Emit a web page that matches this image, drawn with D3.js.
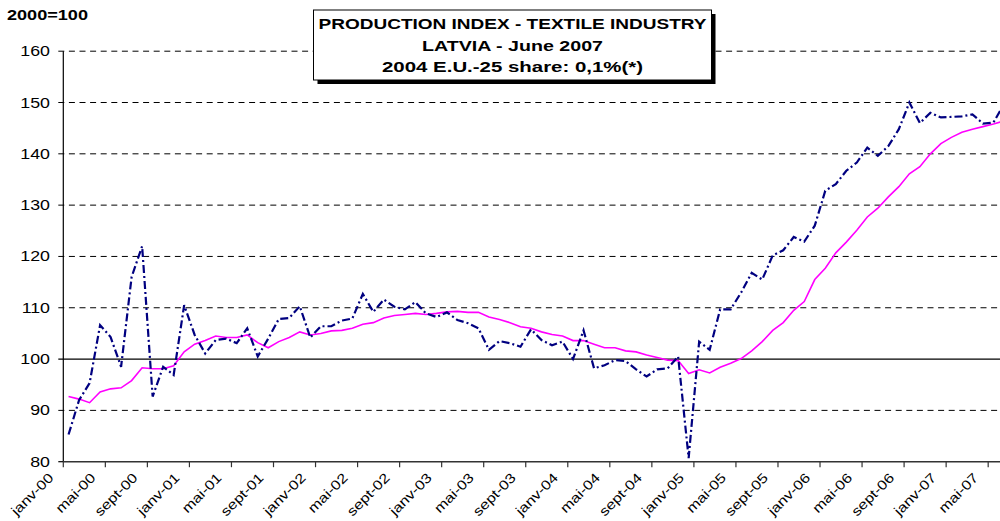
<!DOCTYPE html>
<html>
<head>
<meta charset="utf-8">
<script src="https://cdn.jsdelivr.net/npm/d3@7"></script>
<style>
  html, body { margin: 0; padding: 0; background: #fff; }
  svg { display: block; }
  text { font-family: "Liberation Sans", Arial, Helvetica, sans-serif; fill: #000; }
</style>
</head>
<body>
<svg id="chart" width="1000" height="521"></svg>
<script>
// ---- data ----
const monthNames = ["janv", "févr", "mars", "avr", "mai", "juin", "juil", "août", "sept", "oct", "nov", "déc"];
const startYear = 2000;
const nMonths = 90; // janv-00 .. juin-07
const categories = [];
for (let i = 0; i < nMonths; i++) {
  const yy = startYear + Math.floor(i / 12);
  categories.push(monthNames[i % 12] + "-" + String(yy % 100).padStart(2, "0"));
}

// Production index (dash-dot, navy)
const indexValues = [
  85.3, 92.0, 95.3, 106.6, 104.3, 98.5, 116.0, 122.0, 92.7, 98.5,
  96.9, 110.5, 104.7, 101.1, 103.7, 104.0, 103.1, 106.0, 100.5, 104.0,
  107.8, 108.0, 110.3, 104.2, 106.4, 106.4, 107.5, 107.9, 112.7, 109.2,
  111.6, 110.2, 109.7, 111.1, 108.9, 108.2, 109.1, 107.6, 107.0, 106.0,
  101.8, 103.5, 103.1, 102.4, 105.8, 103.7, 102.7, 103.4, 100.0, 105.6,
  98.2, 98.8, 99.8, 99.6, 98.0, 96.6, 98.0, 98.2, 100.5, 80.7,
  103.4, 101.8, 109.7, 109.7, 113.0, 116.8, 115.5, 120.2, 121.2, 123.8,
  122.9, 126.0, 132.8, 134.1, 136.7, 138.3, 141.2, 139.6, 141.5, 144.8,
  150.0, 146.0, 148.0, 147.1, 147.2, 147.3, 147.7, 145.9, 146.1, 149.7
];

// Trend (solid, magenta)
const trendValues = [
  92.7, 92.2, 91.5, 93.6, 94.2, 94.4, 95.8, 98.3, 98.1, 98.1,
  98.7, 101.4, 102.9, 103.6, 104.5, 104.2, 104.2, 104.7, 103.2, 102.2,
  103.4, 104.2, 105.3, 104.7, 105.0, 105.5, 105.6, 106.0, 106.8, 107.1,
  108.0, 108.5, 108.7, 108.9, 108.7, 108.9, 109.2, 109.3, 109.1, 109.1,
  108.2, 107.7, 107.1, 106.3, 106.0, 105.3, 104.8, 104.5, 103.6, 103.6,
  102.9, 102.2, 102.2, 101.6, 101.4, 100.8, 100.3, 99.8, 99.7, 97.2,
  97.9, 97.3, 98.4, 99.2, 100.1, 101.6, 103.4, 105.6, 107.1, 109.5,
  111.2, 115.5, 117.7, 120.7, 122.8, 125.1, 127.7, 129.4, 131.6, 133.6,
  136.1, 137.5, 140.0, 142.0, 143.2, 144.2, 144.8, 145.3, 145.8, 146.4
];

const yTicks = [80, 90, 100, 110, 120, 130, 140, 150, 160];
const xTickLabels = ["janv-00", "mai-00", "sept-00", "janv-01", "mai-01", "sept-01", "janv-02", "mai-02", "sept-02",
  "janv-03", "mai-03", "sept-03", "janv-04", "mai-04", "sept-04", "janv-05", "mai-05", "sept-05",
  "janv-06", "mai-06", "sept-06", "janv-07", "mai-07"];
const titleLines = ["PRODUCTION INDEX - TEXTILE INDUSTRY", "LATVIA - June 2007", "2004 E.U.-25 share: 0,1%(*)"];
const unitLabel = "2000=100";

// ---- layout ----
const svg = d3.select("#chart");
const plotLeft = 63.3, plotTop = 51.2, plotBottom = 461.7;
const monthW = 10.51;
const plotRight = plotLeft + nMonths * monthW;
const SX = 1.27; // horizontal stretch of the type

const x = d3.scaleBand().domain(categories).range([plotLeft, plotRight]).paddingInner(0).paddingOuter(0);
const y = d3.scaleLinear().domain([80, 160]).range([plotBottom, plotTop]);
const cx = d => x(d) + x.bandwidth() / 2;

// gridlines
svg.append("g").selectAll("line").data(yTicks.filter(v => v !== 80 && v !== 100)).join("line")
  .attr("x1", plotLeft - 5).attr("x2", 1000)
  .attr("y1", d => y(d)).attr("y2", d => y(d))
  .attr("stroke", "#000").attr("stroke-width", 1).attr("stroke-dasharray", "6,4.6");

// 100 line solid
svg.append("line").attr("x1", plotLeft - 5).attr("x2", 1000).attr("y1", y(100)).attr("y2", y(100))
  .attr("stroke", "#000").attr("stroke-width", 1.3);

// y axis
svg.append("line").attr("x1", plotLeft).attr("x2", plotLeft).attr("y1", y(160)).attr("y2", plotBottom)
  .attr("stroke", "#000").attr("stroke-width", 1.2);
svg.append("line").attr("x1", plotLeft - 5).attr("x2", plotLeft).attr("y1", plotBottom).attr("y2", plotBottom)
  .attr("stroke", "#000").attr("stroke-width", 1.2);

// y labels
svg.append("g").selectAll("text").data(yTicks).join("text")
  .attr("transform", d => `translate(50,${y(d) + 5}) scale(${SX},1)`)
  .attr("text-anchor", "end").attr("font-size", 14).text(d => d);

// x axis
svg.append("line").attr("x1", plotLeft).attr("x2", 1000).attr("y1", plotBottom).attr("y2", plotBottom)
  .attr("stroke", "#333").attr("stroke-width", 1.5);
const tickCats = categories.filter((c, i) => i % 4 === 0);
svg.append("g").selectAll("line").data(tickCats).join("line")
  .attr("x1", d => x(d)).attr("x2", d => x(d)).attr("y1", plotBottom).attr("y2", plotBottom + 5.5)
  .attr("stroke", "#333").attr("stroke-width", 1.2);
svg.append("g").selectAll("text").data(tickCats).join("text")
  .attr("transform", d => `translate(${x(d) - 9},${plotBottom + 17}) rotate(-45) scale(1.2,1)`)
  .attr("text-anchor", "end").attr("font-size", 13.5)
  .text((d, i) => xTickLabels[i]);

// series
const lineGen = vals => d3.line().x((d, i) => cx(categories[i])).y(d => y(d))(vals);
svg.append("path").attr("d", lineGen(trendValues))
  .attr("fill", "none").attr("stroke", "#ff00ff").attr("stroke-width", 1.6);
svg.append("path").attr("d", lineGen(indexValues))
  .attr("fill", "none").attr("stroke", "#000080").attr("stroke-width", 2.2)
  .attr("stroke-dasharray", "8,3,2,3");

// unit label
svg.append("text").attr("x", 7).attr("y", 20).attr("font-size", 14).attr("font-weight", "bold")
  .attr("textLength", 81).attr("lengthAdjust", "spacingAndGlyphs").text(unitLabel);

// title box
const bx = 313.5, by = 10, bw = 398, bh = 70;
svg.append("rect").attr("x", bx + 4).attr("y", by + 4).attr("width", bw).attr("height", bh).attr("fill", "#000");
svg.append("rect").attr("x", bx).attr("y", by).attr("width", bw).attr("height", bh)
  .attr("fill", "#fff").attr("stroke", "#000").attr("stroke-width", 1);
const titleWidths = [388, 181, 261];
const titleBase = [29, 50.5, 72];
svg.append("g").selectAll("text").data(titleLines).join("text")
  .attr("x", bx + bw / 2).attr("y", (d, i) => titleBase[i])
  .attr("text-anchor", "middle").attr("font-size", 15).attr("font-weight", "bold")
  .attr("textLength", (d, i) => titleWidths[i]).attr("lengthAdjust", "spacingAndGlyphs")
  .text(d => d);
</script>
</body>
</html>
